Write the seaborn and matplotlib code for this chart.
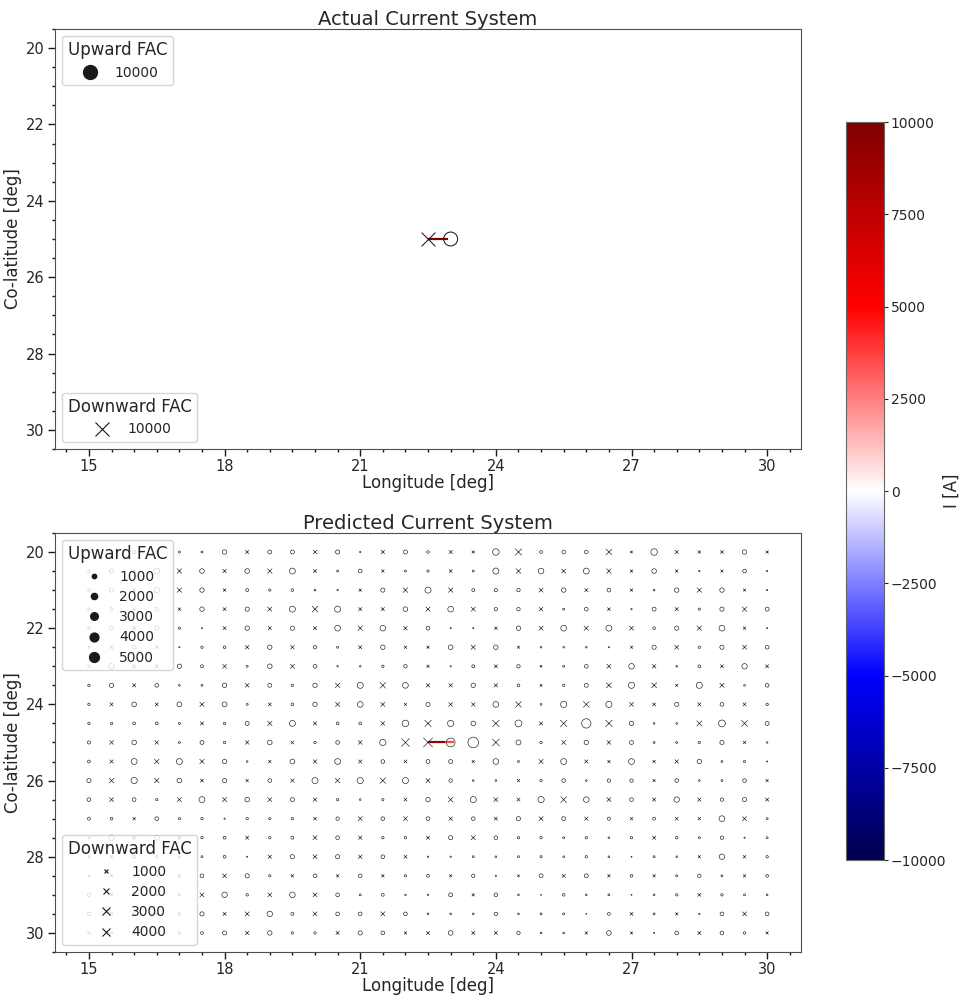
import numpy as np
import pandas as pd
import matplotlib
matplotlib.use("Agg")
import matplotlib.pyplot as plt
import seaborn as sns
from matplotlib.collections import LineCollection
from matplotlib.lines import Line2D
from matplotlib.ticker import MultipleLocator
from matplotlib.colors import Normalize
from matplotlib.cm import ScalarMappable

sns.set_theme(style="ticks")
plt.rcParams["font.family"] = ["DejaVu Sans"]
plt.rcParams["axes.linewidth"] = 0.8
plt.rcParams["axes.edgecolor"] = "0.3"

# ---------------- data ----------------
lon_grid = [15.0, 15.5, 16.0, 16.5, 17.0, 17.5, 18.0, 18.5, 19.0, 19.5, 20.0,
            20.5, 21.0, 21.5, 22.0, 22.5, 23.0, 23.5, 24.0, 24.5, 25.0,
            25.5, 26.0, 26.5, 27.0, 27.5, 28.0, 28.5, 29.0, 29.5, 30.0]
colat_grid = [20.0, 20.5, 21.0, 21.5, 22.0, 22.5, 23.0, 23.5, 24.0, 24.5, 25.0,
              25.5, 26.0, 26.5, 27.0, 27.5, 28.0, 28.5, 29.0, 29.5, 30.0]

# predicted FAC [A] per co-latitude row (positive = upward, negative = downward)
I_20_0 = [300, -500, 700, 300, 200, 200, 1000, -700, 800, 800, -800, 900, 100, -800, 800, 350,
          -700, -450, 2200, -2300, 400, 700, 700, -2000, -300, 2200, -700, -450, -600, 1000, -450]
I_20_5 = [300, 900, -600, 1800, -1200, 1100, -800, 1100, -1200, 1800, -700, 200, 700, -450, 200, 250,
          -600, 200, 1900, -1300, 1600, -1000, 1800, -1200, -450, 1100, -450, 100, -400, 700, 100]
I_21_0 = [300, 900, -600, 1500, -1200, 1000, -500, 450, 250, 350, 150, 100, -450, 900, -1300, 1900,
          -1200, 450, 500, 600, -1000, 1000, -700, 700, -450, 150, 1000, -1200, 1000, -400, 100]
I_21_5 = [300, 500, -500, 700, -500, 1000, -600, 900, -1100, 1800, -2000, 1900, -700, -700, 1100, -1100,
          1700, -1000, 600, 600, -800, 200, 700, -550, 100, 800, -700, 250, 900, -1200, 800]
I_22_0 = [300, 800, -800, 900, 250, 80, -600, 1000, -700, 900, -700, 1700, -1200, 1600, -800, 700,
          80, 80, -450, 1000, -1100, 1700, -1200, 1800, -1000, 350, 900, -1200, 1700, -500, 80]
I_22_5 = [200, -600, 700, -400, 80, 300, 350, -800, 1000, -800, 600, 200, -700, 1000, -450, -400,
          1100, -1100, 1000, -400, 120, 120, 120, 80, -400, 900, -1000, 300, 900, -1000, 700]
I_23_0 = [300, 1500, -800, -600, 1000, 450, -900, 200, 1100, -1100, 700, 120, 120, 300, 600, -400,
          80, 450, -600, 600, -300, 200, 700, -1000, 1600, -800, 150, 400, -600, 1500, -600]
I_23_5 = [300, 900, -700, 700, 150, 200, 1000, -900, 800, 300, 1000, -1200, 1900, -1900, 1700, -800,
          -800, 1000, -800, 400, -300, 300, 800, -1500, 1900, -1500, -400, 1900, -1100, 150, 700]
I_24_0 = [300, -700, 1100, -600, 1200, -1100, 1200, 200, -600, 400, 1000, -1100, 1700, -1000, -400, 900,
          -900, -800, 1700, -1900, 150, 2000, -2000, 2000, -1000, -600, 900, -700, 700, -600, 300]
I_24_5 = [300, 300, 400, 400, 200, -700, 300, 800, -1200, 1800, -700, 400, 400, -900, 2200, -2300,
          2000, 1100, -2500, 2400, -700, -2500, 4500, -2500, 1000, 150, 150, -1500, 2400, -2000, 800]
I_25_0 = [500, -900, 1100, -800, 200, 800, 300, -800, 1100, -600, 300, 700, -900, 2000, -3500, -4500,
          4000, 5800, -2600, 1300, 300, -1000, 1000, -900, 800, 200, 200, 300, 900, -500, 120]
I_25_5 = [400, -700, 1800, -1300, 1800, -1200, 1000, 150, -450, 1200, -800, 1700, -700, 700, -600, 800,
          800, -450, 1700, 200, -1100, 1800, -700, -450, 1700, -450, -800, 1000, 200, 250, 80]
I_26_0 = [900, -1300, 2000, -1300, 1100, -600, 900, -400, 700, -800, 1900, -1300, 2000, -1800, 1900, -1000,
          600, 150, 150, -450, 300, 700, 150, 600, 600, -400, 700, 150, 200, 700, -400]
I_26_5 = [700, -1000, 700, 250, -1000, 1800, -1100, 1100, -1000, 800, -800, 300, 150, 250, -600, 1000,
          -1300, 1900, -1000, -600, 2000, -1900, 1600, -1000, 700, -700, 1500, -700, 600, 900, -700]
I_27_0 = [450, 350, -450, 700, 250, 300, 80, 300, 250, 300, -600, 600, -1000, 700, -1000, 700,
          -800, 700, -700, 900, -1000, 800, -700, 500, -450, 450, -600, -450, 1700, -1000, 200]
I_27_5 = [200, 1500, -800, 1200, -600, 300, 400, -700, 300, 450, -1000, 700, -800, 300, 300, -700,
          900, -1100, 700, 250, 300, 200, 300, 150, 300, -700, 350, 200, 600, 80, 200]
I_28_0 = [200, -500, 600, 300, 200, 200, 400, 80, -700, 900, -1000, 900, -800, 700, -600, 100,
          100, 200, 150, 200, 250, 150, 300, 150, 50, 200, 150, -450, 1500, -500, 300]
I_28_5 = [200, -400, 300, 200, 300, 700, -1000, 900, 250, -450, 700, -450, 700, -450, 250, 400,
          -450, 600, 100, -300, 800, -700, 800, -450, 350, -400, 200, 600, 200, -450, 400]
I_29_0 = [600, -500, 300, 200, 250, -1000, 1500, 300, -1000, 1600, -1000, 700, 200, 400, 100, 100,
          800, -450, 700, 150, 50, 350, 150, 200, 50, 150, 300, -600, 300, 200, 150]
I_29_5 = [600, 300, 200, -500, 300, 900, -700, -1000, 1500, 450, -1000, 700, 700, -1100, 700, 150,
          150, 150, 600, 150, 200, 200, 50, 400, -600, 200, -400, 100, 700, -1000, 700]
I_30_0 = [300, 200, 300, 200, 300, 400, 800, -900, 1000, 300, 300, -700, 900, 700, -450, -700,
          1100, -700, -700, 600, 150, 150, -450, 1100, -350, -100, 700, -700, 700, 300, -400]

pred_rows = [I_20_0, I_20_5, I_21_0, I_21_5, I_22_0, I_22_5, I_23_0, I_23_5, I_24_0, I_24_5, I_25_0,
             I_25_5, I_26_0, I_26_5, I_27_0, I_27_5, I_28_0, I_28_5, I_29_0, I_29_5, I_30_0]

# actual current system
actual_lon = [23.0, 22.5]
actual_colat = [25.0, 25.0]
actual_I = [10000, -10000]

# horizontal current segments (lon start, lon end, colat, current)
act_seg_lon0 = [22.5]
act_seg_lon1 = [22.95]
act_seg_colat = [25.0]
act_seg_I = [10000]

pred_seg_lon0 = [22.5, 22.88]
pred_seg_lon1 = [22.88, 23.07]
pred_seg_colat = [25.0, 25.0]
pred_seg_I = [9000, 3500]

up_legend_vals = [1000, 2000, 3000, 4000, 5000]
down_legend_vals = [1000, 2000, 3000, 4000]
actual_legend_vals = [10000]

cbar_ticks = [-10000, -7500, -5000, -2500, 0, 2500, 5000, 7500, 10000]

# ---------------- frames ----------------
LON, COLAT = np.meshgrid(lon_grid, colat_grid)
pred_df = pd.DataFrame({"lon": LON.ravel(), "colat": COLAT.ravel(),
                        "I": np.array(pred_rows, dtype=float).ravel()})
pred_df["mag"] = pred_df["I"].abs()
act_df = pd.DataFrame({"lon": actual_lon, "colat": actual_colat, "I": actual_I})
act_df["mag"] = act_df["I"].abs()

norm = Normalize(-10000, 10000)
cmap = plt.get_cmap("seismic")

fig = plt.figure(figsize=(9.62, 9.96), dpi=100)
ax1 = fig.add_axes([0.0572, 0.5492, 0.7755, 0.4217])
ax2 = fig.add_axes([0.0572, 0.0442, 0.7755, 0.4207])
cax = fig.add_axes([0.8794, 0.1365, 0.0395, 0.741])


def draw(ax, df, lon0, lon1, colat, cur, lw_m, lw_line, mcol):
    segs = [[(a, c), (b, c)] for a, b, c in zip(lon0, lon1, colat)]
    lc = LineCollection(segs, cmap=cmap, norm=norm, linewidths=lw_line, zorder=1.5)
    lc.set_array(np.array(cur, dtype=float))
    ax.add_collection(lc)
    up = df[df["I"] > 0]
    dn = df[df["I"] < 0]
    sns.scatterplot(data=up, x="lon", y="colat", size="mag", sizes=(0, 100),
                    size_norm=(0, 10000), marker="o", color=mcol, edgecolor=mcol,
                    facecolors="none", linewidth=lw_m, legend=False, ax=ax, zorder=2)
    sns.scatterplot(data=dn, x="lon", y="colat", size="mag", sizes=(0, 100),
                    size_norm=(0, 10000), marker="x", color=mcol,
                    linewidth=lw_m, legend=False, ax=ax, zorder=2)


def legends(ax, upvals, dnvals):
    hu = [Line2D([], [], marker="o", color="k", linestyle="", markersize=np.sqrt(v / 100))
          for v in upvals]
    hd = [Line2D([], [], marker="x", color="k", linestyle="", markeredgewidth=0.8,
                 markersize=np.sqrt(v / 100)) for v in dnvals]
    l1 = ax.legend(hu, [str(v) for v in upvals], title="Upward FAC", loc="upper left",
                   fontsize=10, title_fontsize=12, frameon=True, labelspacing=0.45)
    ax.add_artist(l1)
    ax.legend(hd, [str(v) for v in dnvals], title="Downward FAC", loc="lower left",
              fontsize=10, title_fontsize=12, frameon=True, labelspacing=0.45)


draw(ax1, act_df, act_seg_lon0, act_seg_lon1, act_seg_colat, act_seg_I, 0.75, 1.6, "k")
draw(ax2, pred_df, pred_seg_lon0, pred_seg_lon1, pred_seg_colat, pred_seg_I, 0.45, 1.6, "0.1")
legends(ax1, actual_legend_vals, actual_legend_vals)
legends(ax2, up_legend_vals, down_legend_vals)

for ax, title in [(ax1, "Actual Current System"), (ax2, "Predicted Current System")]:
    ax.set_xlim(14.25, 30.75)
    ax.set_ylim(30.5, 19.5)
    ax.xaxis.set_major_locator(MultipleLocator(3))
    ax.xaxis.set_minor_locator(MultipleLocator(0.5))
    ax.yaxis.set_major_locator(MultipleLocator(2))
    ax.yaxis.set_minor_locator(MultipleLocator(0.5))
    ax.tick_params(which="major", length=5, width=1, labelsize=10.5, color="k", pad=2.5)
    ax.tick_params(which="minor", length=2.5, width=1, color="k")
    ax.set_xlabel("Longitude [deg]", fontsize=12, labelpad=0)
    ax.set_ylabel("Co-latitude [deg]", fontsize=12, labelpad=3)
    ax.set_title(title, fontsize=14, pad=3)

sm = ScalarMappable(norm=norm, cmap=cmap)
cb = fig.colorbar(sm, cax=cax, ticks=cbar_ticks)
cb.set_label("I [A]", fontsize=12, labelpad=-3)
cb.ax.tick_params(labelsize=10, length=3, width=0.8, pad=2)
cb.outline.set_edgecolor("0.4")
cb.outline.set_linewidth(0.8)

fig.savefig("out.png", dpi=100)
